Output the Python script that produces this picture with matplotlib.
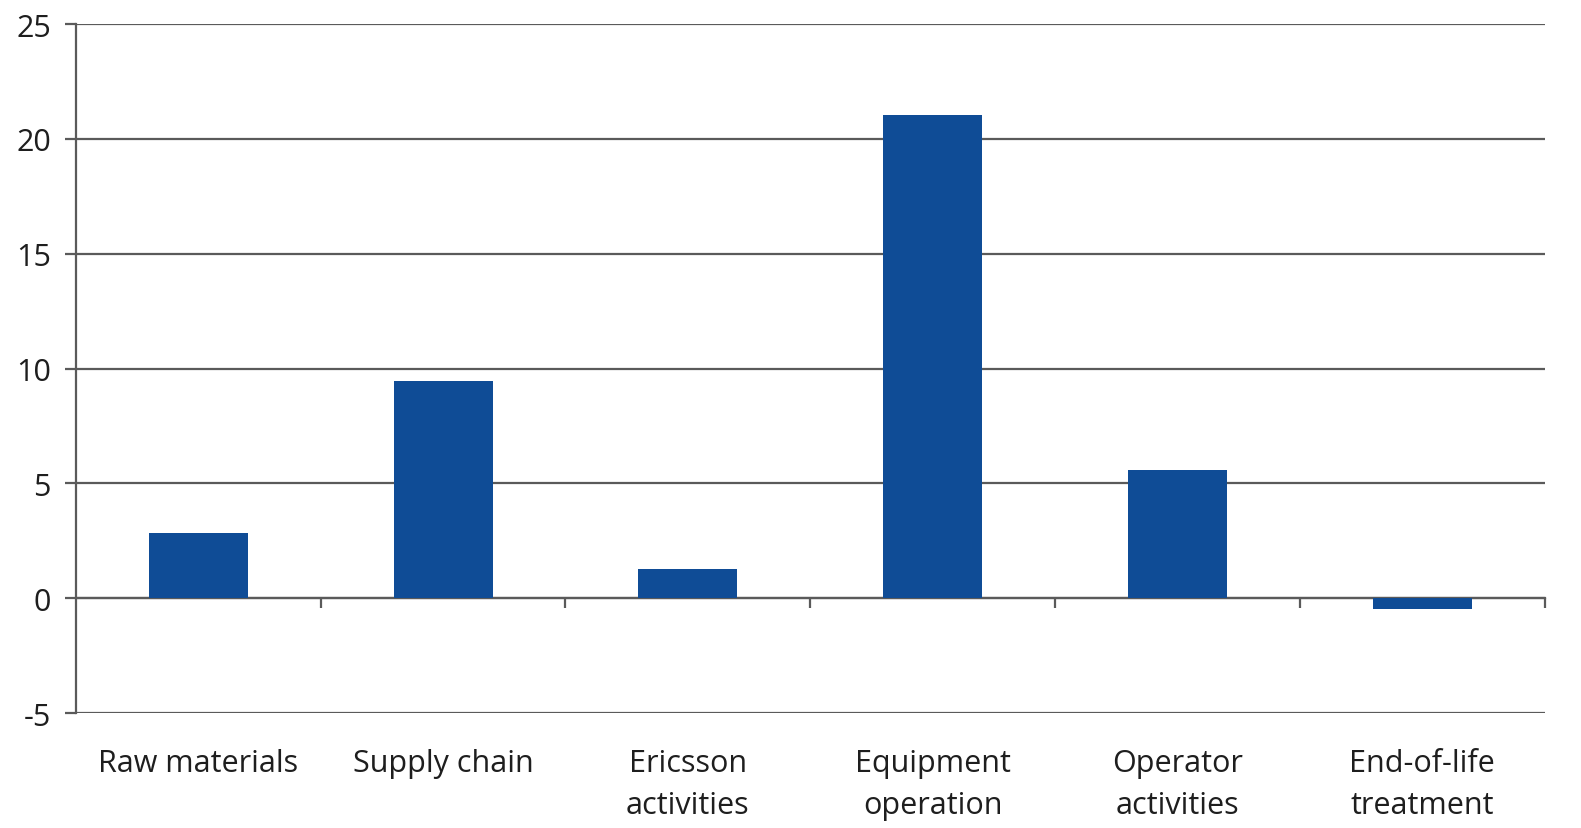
import matplotlib.pyplot as plt
import numpy as np

categories = ["Raw materials", "Supply chain", "Ericsson\nactivities",
              "Equipment\noperation", "Operator\nactivities", "End-of-life\ntreatment"]
values = [2.85, 9.45, 1.26, 21.05, 5.57, -0.45]
yticks = [-5, 0, 5, 10, 15, 20, 25]

bar_color = "#0F4C96"
line_color = "#5a5a5a"

plt.rcParams["font.family"] = ["Open Sans", "DejaVu Sans"]

fig = plt.figure(figsize=(15.81, 8.29), dpi=100)
ax = fig.add_axes([0.048, 0.1387, 0.929, 0.8311])

x = np.arange(len(categories))
ax.bar(x, values, width=0.405, color=bar_color, zorder=3)

ax.set_xlim(-0.5, len(categories) - 0.5)
ax.set_ylim(-5, 25)
ax.set_yticks(yticks)
ax.set_yticklabels([str(v) for v in yticks])
ax.yaxis.grid(True, color=line_color, linewidth=1.6, zorder=1)
ax.set_axisbelow(True)

for side in ["top", "right", "bottom"]:
    ax.spines[side].set_visible(False)
ax.spines["left"].set_color(line_color)
ax.spines["left"].set_linewidth(1.6)
ax.tick_params(axis="y", length=8, width=1.6, color=line_color, pad=10,
               labelsize=22, labelcolor="#1e1e1e")

ax.set_xticks(x)
ax.set_xticklabels(categories, linespacing=1.55)
ax.tick_params(axis="x", length=0, pad=25, labelsize=22, labelcolor="#1e1e1e")
for lbl in ax.get_xticklabels():
    lbl.set_verticalalignment("top")

# category separators on the zero line
sec = ax.secondary_xaxis(0, transform=ax.transData)
sec.set_xticks(x + 0.5)
sec.set_xticklabels([])
sec.spines["bottom"].set_color(line_color)
sec.spines["bottom"].set_linewidth(1.6)
sec.tick_params(axis="x", direction="out", length=7, width=1.6, color=line_color)

fig.savefig("out.png", dpi=100)
